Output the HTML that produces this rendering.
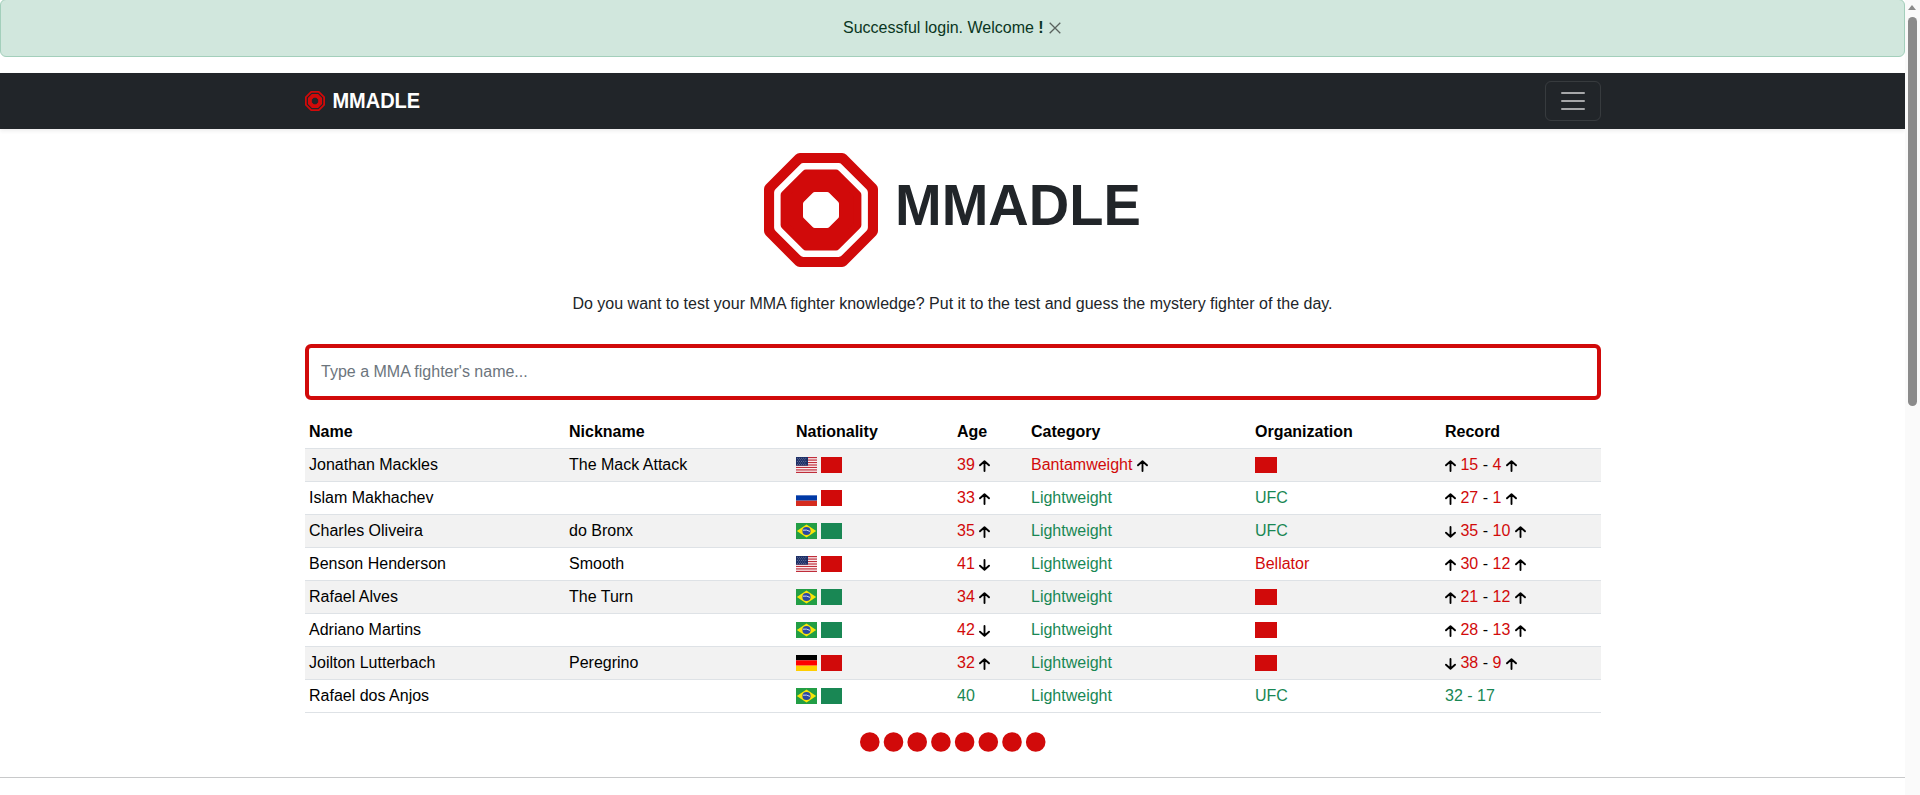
<!DOCTYPE html>
<html>
<head>
<meta charset="utf-8">
<style>
*{box-sizing:border-box;}
html,body{margin:0;padding:0;overflow:hidden;width:1920px;height:795px;background:#fff;}
body{font-family:"Liberation Sans",sans-serif;font-size:16px;line-height:1.5;color:#212529;position:relative;}
.page{position:absolute;left:0;top:0;width:1905px;height:795px;}
.alert{position:absolute;left:0;top:-1px;width:1905px;height:58px;background:#d1e7dd;border:1px solid #a3cfbb;border-radius:6px;color:#0a3622;text-align:left;padding:16px 0 0 842px;line-height:24px;}
.alert .x{position:absolute;left:1048px;top:21.5px;}
.nav{position:absolute;left:0;top:73px;width:1905px;height:56px;background:#212529;box-shadow:0 2px 4px rgba(0,0,0,.075);}
.brand{position:absolute;left:332.4px;top:86px;height:28px;color:#fff;font-weight:bold;font-size:20px;line-height:28px;transform:scaleY(1.07);transform-origin:0 7px;}
.bicon{position:absolute;left:305px;top:91px;}
.toggler{position:absolute;left:1545px;top:81px;width:56px;height:40px;border:1px solid rgba(255,255,255,.1);border-radius:6px;}
.toggler i{position:absolute;left:15px;width:24px;height:2px;border-radius:1px;background:rgba(255,255,255,.6);}
.sbar{position:absolute;left:1905px;top:0;width:15px;height:795px;background:#fafafa;}
.thumb{position:absolute;left:3px;top:17px;width:9px;height:389px;border-radius:5px;background:#8b8b8b;}
.arrowup{position:absolute;left:3px;top:5px;width:0;height:0;border-left:4.8px solid transparent;border-right:4.8px solid transparent;border-bottom:5px solid #8b8b8b;}
.hlogo{position:absolute;left:764px;top:153px;}
.htitle{position:absolute;left:895px;top:170px;font-size:56px;font-weight:bold;line-height:70px;color:#212529;transform:scaleY(1.025);transform-origin:0 14px;}
.sub{position:absolute;left:0;top:292px;width:1905px;text-align:center;margin:0;line-height:24px;}
.search{position:absolute;left:305px;top:344px;width:1296px;height:56px;border:4px solid #d10a0a;border-radius:6px;padding:0 12px;color:#6c757d;line-height:48px;}
table{position:absolute;left:305px;top:416px;width:1296px;border-collapse:collapse;table-layout:fixed;}
th,td{padding:0 4px;text-align:left;border-bottom:1px solid #dee2e6;height:32px;line-height:32px;white-space:nowrap;vertical-align:top;}
th{font-weight:bold;color:#000;}
td{color:#000;}
tbody tr:nth-child(odd) td{background:#f2f2f2;}
.r{color:#d10a0a;}
.g{color:#198754;}
.k{color:#000;}
.ar{display:inline-block;vertical-align:-2px;}
.fl{display:inline-block;vertical-align:-3px;margin-right:4px;}
.sq{display:inline-block;width:21px;height:16px;vertical-align:-3px;}
.dots{position:absolute;left:860px;top:732px;}
.hr{position:absolute;left:0;width:1905px;top:777px;height:1px;background:#c8c9ca;}
</style>
</head>
<body>
<div class="page">
  <div class="alert">Successful login. Welcome <b>!</b><svg class="x" width="12" height="12" viewBox="0 0 12 12"><path d="M0.7 0.7L11.3 11.3M11.3 0.7L0.7 11.3" stroke="#5a625e" stroke-width="1.3"/></svg></div>
  <div class="nav"></div>
  <svg class="bicon" width="20" height="20" viewBox="0 0 114 114"><path d="M35.88 6.00 L78.12 6.00 L108.00 35.88 L108.00 78.12 L78.12 108.00 L35.88 108.00 L6.00 78.12 L6.00 35.88 Z" fill="#d10a0a" stroke="#d10a0a" stroke-width="12.00" stroke-linejoin="round"/><path d="M39.44 14.60 L74.56 14.60 L99.40 39.44 L99.40 74.56 L74.56 99.40 L39.44 99.40 L14.60 74.56 L14.60 39.44 Z" fill="#212529" stroke="#212529" stroke-width="9.00" stroke-linejoin="round"/><path d="M41.92 20.60 L72.08 20.60 L93.40 41.92 L93.40 72.08 L72.08 93.40 L41.92 93.40 L20.60 72.08 L20.60 41.92 Z" fill="#d10a0a" stroke="#d10a0a" stroke-width="8.00" stroke-linejoin="round"/><path d="M50.79 42.00 L63.21 42.00 L72.00 50.79 L72.00 63.21 L63.21 72.00 L50.79 72.00 L42.00 63.21 L42.00 50.79 Z" fill="#212529" stroke="#212529" stroke-width="6.00" stroke-linejoin="round"/></svg>
  <div class="brand">MMADLE</div>
  <div class="toggler"><i style="top:10px"></i><i style="top:18px"></i><i style="top:26px"></i></div>
  <svg class="hlogo" width="114" height="114" viewBox="0 0 114 114"><path d="M35.88 6.00 L78.12 6.00 L108.00 35.88 L108.00 78.12 L78.12 108.00 L35.88 108.00 L6.00 78.12 L6.00 35.88 Z" fill="#d10a0a" stroke="#d10a0a" stroke-width="12.00" stroke-linejoin="round"/><path d="M39.44 14.60 L74.56 14.60 L99.40 39.44 L99.40 74.56 L74.56 99.40 L39.44 99.40 L14.60 74.56 L14.60 39.44 Z" fill="#fff" stroke="#fff" stroke-width="9.00" stroke-linejoin="round"/><path d="M41.92 20.60 L72.08 20.60 L93.40 41.92 L93.40 72.08 L72.08 93.40 L41.92 93.40 L20.60 72.08 L20.60 41.92 Z" fill="#d10a0a" stroke="#d10a0a" stroke-width="8.00" stroke-linejoin="round"/><path d="M50.79 42.00 L63.21 42.00 L72.00 50.79 L72.00 63.21 L63.21 72.00 L50.79 72.00 L42.00 63.21 L42.00 50.79 Z" fill="#fff" stroke="#fff" stroke-width="6.00" stroke-linejoin="round"/></svg>
  <div class="htitle">MMADLE</div>
  <p class="sub">Do you want to test your MMA fighter knowledge? Put it to the test and guess the mystery fighter of the day.</p>
  <div class="search">Type a MMA fighter's name...</div>
  <table>
    <colgroup><col style="width:260px"><col style="width:227px"><col style="width:161px"><col style="width:74px"><col style="width:224px"><col style="width:190px"><col style="width:160px"></colgroup>
    <thead><tr><th>Name</th><th>Nickname</th><th>Nationality</th><th>Age</th><th>Category</th><th>Organization</th><th>Record</th></tr></thead>
    <tbody>
<tr><td>Jonathan Mackles</td><td>The Mack Attack</td><td><svg class="fl" width="21" height="16" viewBox="0 0 21 16"><rect width="21" height="16" fill="#fff"/><rect x="0" y="0.000" width="21" height="1.231" fill="#bf2d3a"/><rect x="0" y="2.462" width="21" height="1.231" fill="#bf2d3a"/><rect x="0" y="4.923" width="21" height="1.231" fill="#bf2d3a"/><rect x="0" y="7.385" width="21" height="1.231" fill="#bf2d3a"/><rect x="0" y="9.846" width="21" height="1.231" fill="#bf2d3a"/><rect x="0" y="12.308" width="21" height="1.231" fill="#bf2d3a"/><rect x="0" y="14.769" width="21" height="1.231" fill="#bf2d3a"/><rect width="12" height="8.7" fill="#1c2f66"/><circle cx="1.40" cy="1.20" r="0.55" fill="#66709a"/><circle cx="3.50" cy="1.20" r="0.55" fill="#66709a"/><circle cx="5.60" cy="1.20" r="0.55" fill="#66709a"/><circle cx="7.70" cy="1.20" r="0.55" fill="#66709a"/><circle cx="9.80" cy="1.20" r="0.55" fill="#66709a"/><circle cx="2.45" cy="2.80" r="0.55" fill="#66709a"/><circle cx="4.55" cy="2.80" r="0.55" fill="#66709a"/><circle cx="6.65" cy="2.80" r="0.55" fill="#66709a"/><circle cx="8.75" cy="2.80" r="0.55" fill="#66709a"/><circle cx="1.40" cy="4.40" r="0.55" fill="#66709a"/><circle cx="3.50" cy="4.40" r="0.55" fill="#66709a"/><circle cx="5.60" cy="4.40" r="0.55" fill="#66709a"/><circle cx="7.70" cy="4.40" r="0.55" fill="#66709a"/><circle cx="9.80" cy="4.40" r="0.55" fill="#66709a"/><circle cx="2.45" cy="6.00" r="0.55" fill="#66709a"/><circle cx="4.55" cy="6.00" r="0.55" fill="#66709a"/><circle cx="6.65" cy="6.00" r="0.55" fill="#66709a"/><circle cx="8.75" cy="6.00" r="0.55" fill="#66709a"/><circle cx="1.40" cy="7.60" r="0.55" fill="#66709a"/><circle cx="3.50" cy="7.60" r="0.55" fill="#66709a"/><circle cx="5.60" cy="7.60" r="0.55" fill="#66709a"/><circle cx="7.70" cy="7.60" r="0.55" fill="#66709a"/><circle cx="9.80" cy="7.60" r="0.55" fill="#66709a"/></svg><span class="sq" style="background:#d10a0a;width:21px"></span></td><td><span class="r">39</span> <svg class="ar" width="11" height="12" viewBox="0 0 11 12"><path d="M5.5 11V1.5M1 5.3L5.5 1.2 10 5.3" fill="none" stroke="#000" stroke-width="1.85" stroke-linecap="round" stroke-linejoin="round"/></svg></td><td><span class="r">Bantamweight</span> <svg class="ar" width="11" height="12" viewBox="0 0 11 12"><path d="M5.5 11V1.5M1 5.3L5.5 1.2 10 5.3" fill="none" stroke="#000" stroke-width="1.85" stroke-linecap="round" stroke-linejoin="round"/></svg></td><td><span class="sq" style="background:#d10a0a;width:22px"></span></td><td><svg class="ar" width="11" height="12" viewBox="0 0 11 12"><path d="M5.5 11V1.5M1 5.3L5.5 1.2 10 5.3" fill="none" stroke="#000" stroke-width="1.85" stroke-linecap="round" stroke-linejoin="round"/></svg> <span class="r">15</span> <span class="k">-</span> <span class="r">4</span> <svg class="ar" width="11" height="12" viewBox="0 0 11 12"><path d="M5.5 11V1.5M1 5.3L5.5 1.2 10 5.3" fill="none" stroke="#000" stroke-width="1.85" stroke-linecap="round" stroke-linejoin="round"/></svg></td></tr>
<tr><td>Islam Makhachev</td><td></td><td><svg class="fl" width="21" height="16" viewBox="0 0 21 16"><rect width="21" height="5.33" fill="#fff"/><rect y="5.33" width="21" height="5.33" fill="#0039a6"/><rect y="10.66" width="21" height="5.34" fill="#d52b1e"/></svg><span class="sq" style="background:#d10a0a;width:21px"></span></td><td><span class="r">33</span> <svg class="ar" width="11" height="12" viewBox="0 0 11 12"><path d="M5.5 11V1.5M1 5.3L5.5 1.2 10 5.3" fill="none" stroke="#000" stroke-width="1.85" stroke-linecap="round" stroke-linejoin="round"/></svg></td><td><span class="g">Lightweight</span></td><td><span class="g">UFC</span></td><td><svg class="ar" width="11" height="12" viewBox="0 0 11 12"><path d="M5.5 11V1.5M1 5.3L5.5 1.2 10 5.3" fill="none" stroke="#000" stroke-width="1.85" stroke-linecap="round" stroke-linejoin="round"/></svg> <span class="r">27</span> <span class="k">-</span> <span class="r">1</span> <svg class="ar" width="11" height="12" viewBox="0 0 11 12"><path d="M5.5 11V1.5M1 5.3L5.5 1.2 10 5.3" fill="none" stroke="#000" stroke-width="1.85" stroke-linecap="round" stroke-linejoin="round"/></svg></td></tr>
<tr><td>Charles Oliveira</td><td>do Bronx</td><td><svg class="fl" width="21" height="16" viewBox="0 0 21 16"><rect width="21" height="16" fill="#229e45"/><path d="M10.5 1.4L20.2 8 10.5 14.6 0.8 8Z" fill="#f8e509"/><circle cx="10.5" cy="8" r="4.1" fill="#2b49a3"/><path d="M7 7.2Q10.5 6.4 14 8.4" stroke="#fff" stroke-width="0.8" fill="none"/></svg><span class="sq" style="background:#198754;width:21px"></span></td><td><span class="r">35</span> <svg class="ar" width="11" height="12" viewBox="0 0 11 12"><path d="M5.5 11V1.5M1 5.3L5.5 1.2 10 5.3" fill="none" stroke="#000" stroke-width="1.85" stroke-linecap="round" stroke-linejoin="round"/></svg></td><td><span class="g">Lightweight</span></td><td><span class="g">UFC</span></td><td><svg class="ar" width="11" height="12" viewBox="0 0 11 12"><path d="M5.5 1V10.5M1 6.7L5.5 10.8 10 6.7" fill="none" stroke="#000" stroke-width="1.85" stroke-linecap="round" stroke-linejoin="round"/></svg> <span class="r">35</span> <span class="k">-</span> <span class="r">10</span> <svg class="ar" width="11" height="12" viewBox="0 0 11 12"><path d="M5.5 11V1.5M1 5.3L5.5 1.2 10 5.3" fill="none" stroke="#000" stroke-width="1.85" stroke-linecap="round" stroke-linejoin="round"/></svg></td></tr>
<tr><td>Benson Henderson</td><td>Smooth</td><td><svg class="fl" width="21" height="16" viewBox="0 0 21 16"><rect width="21" height="16" fill="#fff"/><rect x="0" y="0.000" width="21" height="1.231" fill="#bf2d3a"/><rect x="0" y="2.462" width="21" height="1.231" fill="#bf2d3a"/><rect x="0" y="4.923" width="21" height="1.231" fill="#bf2d3a"/><rect x="0" y="7.385" width="21" height="1.231" fill="#bf2d3a"/><rect x="0" y="9.846" width="21" height="1.231" fill="#bf2d3a"/><rect x="0" y="12.308" width="21" height="1.231" fill="#bf2d3a"/><rect x="0" y="14.769" width="21" height="1.231" fill="#bf2d3a"/><rect width="12" height="8.7" fill="#1c2f66"/><circle cx="1.40" cy="1.20" r="0.55" fill="#66709a"/><circle cx="3.50" cy="1.20" r="0.55" fill="#66709a"/><circle cx="5.60" cy="1.20" r="0.55" fill="#66709a"/><circle cx="7.70" cy="1.20" r="0.55" fill="#66709a"/><circle cx="9.80" cy="1.20" r="0.55" fill="#66709a"/><circle cx="2.45" cy="2.80" r="0.55" fill="#66709a"/><circle cx="4.55" cy="2.80" r="0.55" fill="#66709a"/><circle cx="6.65" cy="2.80" r="0.55" fill="#66709a"/><circle cx="8.75" cy="2.80" r="0.55" fill="#66709a"/><circle cx="1.40" cy="4.40" r="0.55" fill="#66709a"/><circle cx="3.50" cy="4.40" r="0.55" fill="#66709a"/><circle cx="5.60" cy="4.40" r="0.55" fill="#66709a"/><circle cx="7.70" cy="4.40" r="0.55" fill="#66709a"/><circle cx="9.80" cy="4.40" r="0.55" fill="#66709a"/><circle cx="2.45" cy="6.00" r="0.55" fill="#66709a"/><circle cx="4.55" cy="6.00" r="0.55" fill="#66709a"/><circle cx="6.65" cy="6.00" r="0.55" fill="#66709a"/><circle cx="8.75" cy="6.00" r="0.55" fill="#66709a"/><circle cx="1.40" cy="7.60" r="0.55" fill="#66709a"/><circle cx="3.50" cy="7.60" r="0.55" fill="#66709a"/><circle cx="5.60" cy="7.60" r="0.55" fill="#66709a"/><circle cx="7.70" cy="7.60" r="0.55" fill="#66709a"/><circle cx="9.80" cy="7.60" r="0.55" fill="#66709a"/></svg><span class="sq" style="background:#d10a0a;width:21px"></span></td><td><span class="r">41</span> <svg class="ar" width="11" height="12" viewBox="0 0 11 12"><path d="M5.5 1V10.5M1 6.7L5.5 10.8 10 6.7" fill="none" stroke="#000" stroke-width="1.85" stroke-linecap="round" stroke-linejoin="round"/></svg></td><td><span class="g">Lightweight</span></td><td><span class="r">Bellator</span></td><td><svg class="ar" width="11" height="12" viewBox="0 0 11 12"><path d="M5.5 11V1.5M1 5.3L5.5 1.2 10 5.3" fill="none" stroke="#000" stroke-width="1.85" stroke-linecap="round" stroke-linejoin="round"/></svg> <span class="r">30</span> <span class="k">-</span> <span class="r">12</span> <svg class="ar" width="11" height="12" viewBox="0 0 11 12"><path d="M5.5 11V1.5M1 5.3L5.5 1.2 10 5.3" fill="none" stroke="#000" stroke-width="1.85" stroke-linecap="round" stroke-linejoin="round"/></svg></td></tr>
<tr><td>Rafael Alves</td><td>The Turn</td><td><svg class="fl" width="21" height="16" viewBox="0 0 21 16"><rect width="21" height="16" fill="#229e45"/><path d="M10.5 1.4L20.2 8 10.5 14.6 0.8 8Z" fill="#f8e509"/><circle cx="10.5" cy="8" r="4.1" fill="#2b49a3"/><path d="M7 7.2Q10.5 6.4 14 8.4" stroke="#fff" stroke-width="0.8" fill="none"/></svg><span class="sq" style="background:#198754;width:21px"></span></td><td><span class="r">34</span> <svg class="ar" width="11" height="12" viewBox="0 0 11 12"><path d="M5.5 11V1.5M1 5.3L5.5 1.2 10 5.3" fill="none" stroke="#000" stroke-width="1.85" stroke-linecap="round" stroke-linejoin="round"/></svg></td><td><span class="g">Lightweight</span></td><td><span class="sq" style="background:#d10a0a;width:22px"></span></td><td><svg class="ar" width="11" height="12" viewBox="0 0 11 12"><path d="M5.5 11V1.5M1 5.3L5.5 1.2 10 5.3" fill="none" stroke="#000" stroke-width="1.85" stroke-linecap="round" stroke-linejoin="round"/></svg> <span class="r">21</span> <span class="k">-</span> <span class="r">12</span> <svg class="ar" width="11" height="12" viewBox="0 0 11 12"><path d="M5.5 11V1.5M1 5.3L5.5 1.2 10 5.3" fill="none" stroke="#000" stroke-width="1.85" stroke-linecap="round" stroke-linejoin="round"/></svg></td></tr>
<tr><td>Adriano Martins</td><td></td><td><svg class="fl" width="21" height="16" viewBox="0 0 21 16"><rect width="21" height="16" fill="#229e45"/><path d="M10.5 1.4L20.2 8 10.5 14.6 0.8 8Z" fill="#f8e509"/><circle cx="10.5" cy="8" r="4.1" fill="#2b49a3"/><path d="M7 7.2Q10.5 6.4 14 8.4" stroke="#fff" stroke-width="0.8" fill="none"/></svg><span class="sq" style="background:#198754;width:21px"></span></td><td><span class="r">42</span> <svg class="ar" width="11" height="12" viewBox="0 0 11 12"><path d="M5.5 1V10.5M1 6.7L5.5 10.8 10 6.7" fill="none" stroke="#000" stroke-width="1.85" stroke-linecap="round" stroke-linejoin="round"/></svg></td><td><span class="g">Lightweight</span></td><td><span class="sq" style="background:#d10a0a;width:22px"></span></td><td><svg class="ar" width="11" height="12" viewBox="0 0 11 12"><path d="M5.5 11V1.5M1 5.3L5.5 1.2 10 5.3" fill="none" stroke="#000" stroke-width="1.85" stroke-linecap="round" stroke-linejoin="round"/></svg> <span class="r">28</span> <span class="k">-</span> <span class="r">13</span> <svg class="ar" width="11" height="12" viewBox="0 0 11 12"><path d="M5.5 11V1.5M1 5.3L5.5 1.2 10 5.3" fill="none" stroke="#000" stroke-width="1.85" stroke-linecap="round" stroke-linejoin="round"/></svg></td></tr>
<tr><td>Joilton Lutterbach</td><td>Peregrino</td><td><svg class="fl" width="21" height="16" viewBox="0 0 21 16"><rect width="21" height="5.33" fill="#000"/><rect y="5.33" width="21" height="5.33" fill="#f00"/><rect y="10.66" width="21" height="5.34" fill="#ffce00"/></svg><span class="sq" style="background:#d10a0a;width:21px"></span></td><td><span class="r">32</span> <svg class="ar" width="11" height="12" viewBox="0 0 11 12"><path d="M5.5 11V1.5M1 5.3L5.5 1.2 10 5.3" fill="none" stroke="#000" stroke-width="1.85" stroke-linecap="round" stroke-linejoin="round"/></svg></td><td><span class="g">Lightweight</span></td><td><span class="sq" style="background:#d10a0a;width:22px"></span></td><td><svg class="ar" width="11" height="12" viewBox="0 0 11 12"><path d="M5.5 1V10.5M1 6.7L5.5 10.8 10 6.7" fill="none" stroke="#000" stroke-width="1.85" stroke-linecap="round" stroke-linejoin="round"/></svg> <span class="r">38</span> <span class="k">-</span> <span class="r">9</span> <svg class="ar" width="11" height="12" viewBox="0 0 11 12"><path d="M5.5 11V1.5M1 5.3L5.5 1.2 10 5.3" fill="none" stroke="#000" stroke-width="1.85" stroke-linecap="round" stroke-linejoin="round"/></svg></td></tr>
<tr><td>Rafael dos Anjos</td><td></td><td><svg class="fl" width="21" height="16" viewBox="0 0 21 16"><rect width="21" height="16" fill="#229e45"/><path d="M10.5 1.4L20.2 8 10.5 14.6 0.8 8Z" fill="#f8e509"/><circle cx="10.5" cy="8" r="4.1" fill="#2b49a3"/><path d="M7 7.2Q10.5 6.4 14 8.4" stroke="#fff" stroke-width="0.8" fill="none"/></svg><span class="sq" style="background:#198754;width:21px"></span></td><td><span class="g">40</span></td><td><span class="g">Lightweight</span></td><td><span class="g">UFC</span></td><td><span class="g">32 - 17</span></td></tr>
    </tbody>
  </table>
  <svg class="dots" width="186" height="20" viewBox="0 0 186 20"><circle cx="9.80" cy="10" r="9.8" fill="#d10a0a"/><circle cx="33.50" cy="10" r="9.8" fill="#d10a0a"/><circle cx="57.20" cy="10" r="9.8" fill="#d10a0a"/><circle cx="80.90" cy="10" r="9.8" fill="#d10a0a"/><circle cx="104.60" cy="10" r="9.8" fill="#d10a0a"/><circle cx="128.30" cy="10" r="9.8" fill="#d10a0a"/><circle cx="152.00" cy="10" r="9.8" fill="#d10a0a"/><circle cx="175.70" cy="10" r="9.8" fill="#d10a0a"/></svg>
  <div class="hr"></div>
</div>
<div class="sbar"><div class="arrowup"></div><div class="thumb"></div></div>
</body>
</html>
